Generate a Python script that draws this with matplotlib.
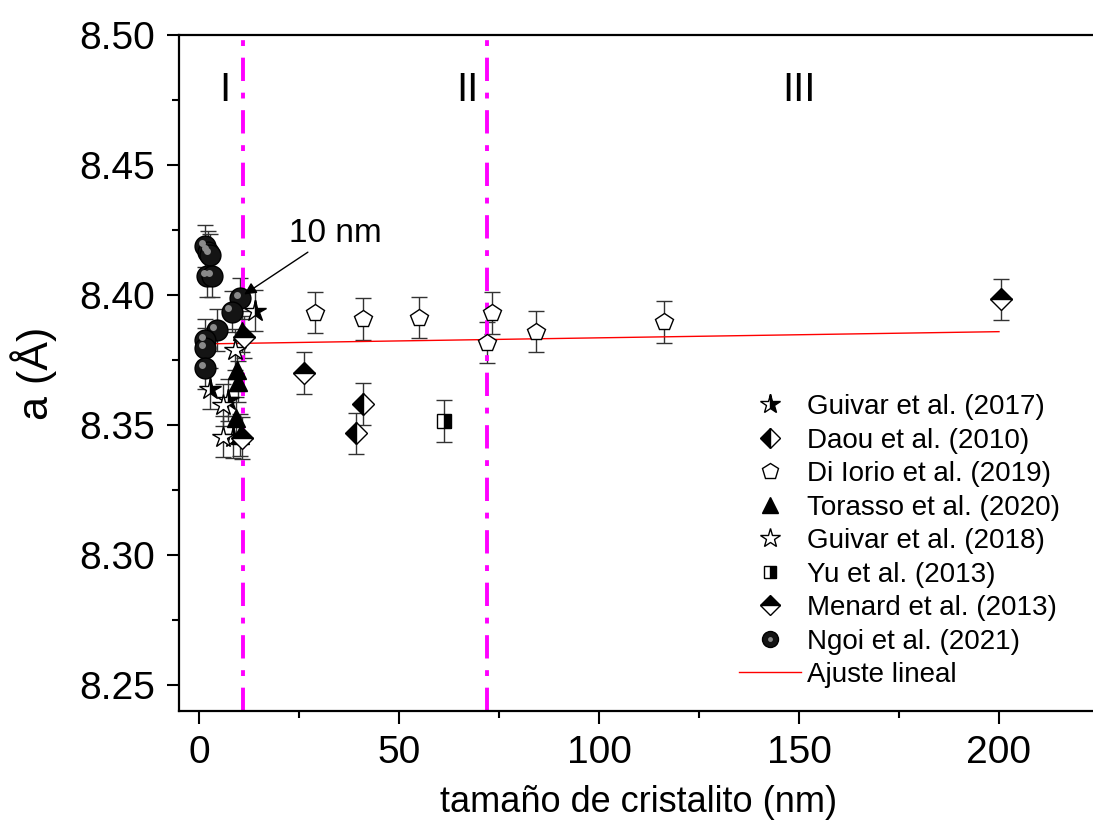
import matplotlib
matplotlib.use("Agg")
import matplotlib.pyplot as plt
import matplotlib.transforms as mtransforms
from matplotlib.lines import Line2D
from matplotlib.legend_handler import HandlerTuple

plt.rcParams['font.family'] = ['Liberation Sans', 'DejaVu Sans']

# ---------------- data ----------------
guivar17_x = [14.0, 2.8, 7.3, 8.5]
guivar17_y = [8.394, 8.364, 8.3596, 8.3454]

daou_x = [39.25, 41.1]
daou_y = [8.3468, 8.3580]

diiorio_x = [29.0, 41.0, 55.0, 73.3, 72.0, 84.2, 116.3]
diiorio_y = [8.3932, 8.3908, 8.3913, 8.3931, 8.3817, 8.3859, 8.3897]

torasso_x = [9.6, 9.8, 9.3, 10.3, 10.8]
torasso_y = [8.3712, 8.3667, 8.3526, 8.3462, 8.3860]

guivar18_x = [9.0, 6.0, 6.0]
guivar18_y = [8.379, 8.3577, 8.3455]

yu_x = [61.25]
yu_y = [8.3515]

menard_x = [26.3, 200.4, 11.2, 10.8]
menard_y = [8.3701, 8.3983, 8.3838, 8.3450]

ngoi_x = [1.5, 2.3, 2.8, 2.0, 3.3, 10.3, 8.2, 4.4, 1.5, 1.5, 1.5]
ngoi_y = [8.4188, 8.4167, 8.4154, 8.4073, 8.4073, 8.3987, 8.3936, 8.3865, 8.3827, 8.3795, 8.3718]

err = 0.008

fit_x = [2.0, 200.0]
fit_y = [8.3812, 8.3859]

region_lines = [11.0, 72.0]
region_labels = ['I', 'II', 'III']
region_label_x = [6.5, 67.0, 150.0]

labels = ['Guivar et al. (2017)', 'Daou et al. (2010)', 'Di Iorio et al. (2019)',
          'Torasso et al. (2020)', 'Guivar et al. (2018)', 'Yu et al. (2013)',
          'Menard et al. (2013)', 'Ngoi et al. (2021)', 'Ajuste lineal']

# ---------------- figure ----------------
fig = plt.figure(figsize=(10.93, 8.22), dpi=100)
ax = fig.add_axes([179/1093, 111/822, 920/1093, 676/822])

ebkw = dict(ecolor='#333333', elinewidth=1.0, capsize=6, capthick=1.0, linestyle='none')
ms = 13

styles = [
    dict(marker='*', ms=ms+3, mfc='black', mfcalt='white', fillstyle='right', mec='black', mew=1.0),
    dict(marker='D', ms=ms-2, mfc='black', mfcalt='white', fillstyle='left', mec='black', mew=1.0),
    dict(marker='p', ms=ms, mfc='white', mec='black', mew=1.0),
    dict(marker='^', ms=ms, mfc='black', mec='black', mew=1.0),
    dict(marker='*', ms=ms+3, mfc='white', mec='black', mew=1.0),
    dict(marker='s', ms=ms-3, mfc='black', mfcalt='white', fillstyle='right', mec='black', mew=1.0),
    dict(marker='D', ms=ms-2, mfc='black', mfcalt='white', fillstyle='top', mec='black', mew=1.0),
    dict(marker='o', ms=ms+2, mfc='#141414', mec='black', mew=1.0),
]
series = [(guivar17_x, guivar17_y), (daou_x, daou_y), (diiorio_x, diiorio_y),
          (torasso_x, torasso_y), (guivar18_x, guivar18_y), (yu_x, yu_y),
          (menard_x, menard_y), (ngoi_x, ngoi_y)]

for (xs, ys), st in zip(series, styles):
    ax.errorbar(xs, ys, yerr=err, **st, **ebkw)

off = mtransforms.offset_copy(ax.transData, fig=fig, x=-2.5, y=2.5, units='points')
ax.plot(ngoi_x, ngoi_y, linestyle='none', marker='o', ms=5, mfc='#8a8a8a', mec='none',
        transform=off, zorder=5)

ax.plot(fit_x, fit_y, color='red', lw=1.0)

for xv in region_lines:
    ax.axvline(xv, color='#ff00ff', lw=2.8, linestyle=(0, (6, 3, 1.5, 3)))

for lab, xv in zip(region_labels, region_label_x):
    ax.text(xv, 8.479, lab, fontsize=29, ha='center', va='center')

ax.annotate('10 nm', xy=(ngoi_x[5] + 1.0, ngoi_y[5] + 0.0015), xytext=(22.5, 8.4235),
            fontsize=24, ha='left', va='center',
            arrowprops=dict(arrowstyle='-|>', color='black', lw=1.0, mutation_scale=18,
                            shrinkA=0, shrinkB=0))

ax.set_xlim(-5, 225)
ax.set_ylim(8.24, 8.50)
ax.set_xticks([0, 50, 100, 150, 200])
ax.set_xticks([25, 75, 125, 175], minor=True)
ax.set_yticks([8.25, 8.30, 8.35, 8.40, 8.45, 8.50])
ax.set_yticklabels(['8.25', '8.30', '8.35', '8.40', '8.45', '8.50'])
ax.set_yticks([8.275, 8.325, 8.375, 8.425, 8.475], minor=True)

ax.tick_params(which='major', direction='out', length=9, width=1.5, labelsize=28)
ax.tick_params(which='minor', direction='out', length=5, width=1.5)
ax.tick_params(axis='x', pad=8)
ax.tick_params(axis='y', pad=8)
for s in ['left', 'bottom', 'top']:
    ax.spines[s].set_linewidth(1.6)
ax.spines['right'].set_visible(False)

ax.set_xlabel('tamaño de cristalito (nm)', fontsize=26, labelpad=10)
ax.set_ylabel('a (Å)', fontsize=31, labelpad=16)

# legend proxies (no error bars in legend)
proxies = []
for st in styles:
    p = dict(st)
    p['ms'] = p['ms'] * 0.9
    proxies.append(Line2D([], [], linestyle='none', **p))
proxies[7] = Line2D([], [], linestyle='none', marker='o', ms=11.5, mfc='#141414', mec='black', mew=1.0)
hl = Line2D([], [], linestyle='none', marker='o', ms=3.5, mfc='#8a8a8a', mec='none')
proxies[7] = (proxies[7], hl)
proxies.append(Line2D([], [], color='red', lw=1.0))

leg = ax.legend(proxies, labels, loc='lower left', bbox_to_anchor=(0.582, -0.003),
                frameon=False, fontsize=20, handlelength=2.2, labelspacing=0.27,
                handletextpad=0.23,
                handler_map={tuple: HandlerTuple(ndivide=1)})

fig.savefig('out.png', dpi=100)
